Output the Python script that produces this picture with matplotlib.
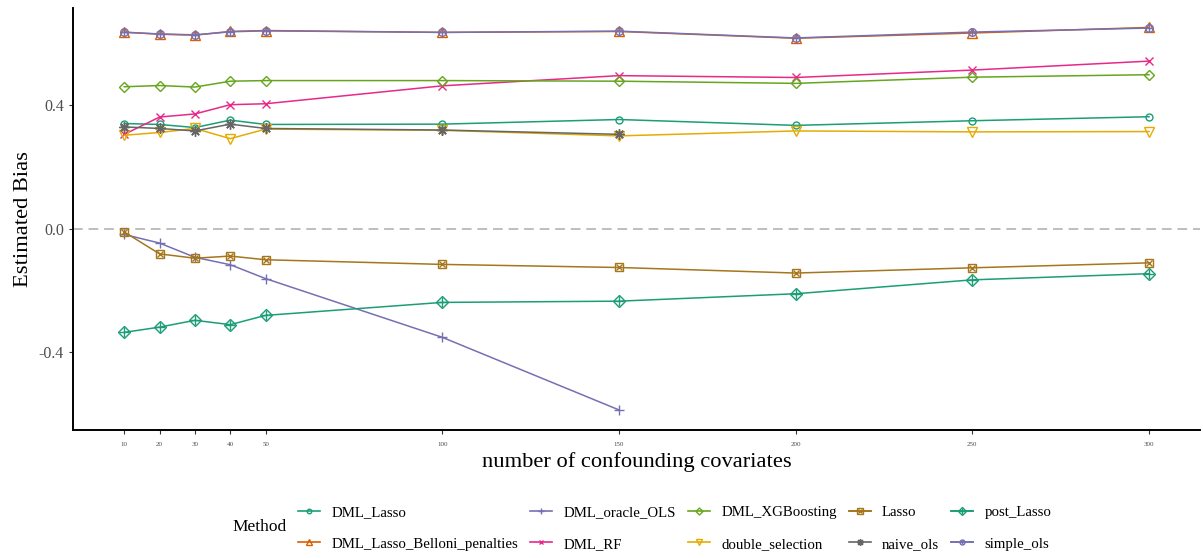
import numpy as np
import matplotlib
matplotlib.use("Agg")
import matplotlib.pyplot as plt
from matplotlib.lines import Line2D

plt.rcParams["font.family"] = ["Liberation Serif", "DejaVu Serif"]

# number of confounding covariates
n_cov = [10, 20, 30, 40, 50, 100, 150, 200, 250, 300]
n_cov_short = [10, 20, 30, 40, 50, 100, 150]

# estimated bias per method
dml_lasso = [0.340, 0.337, 0.327, 0.351, 0.337, 0.338, 0.353, 0.334, 0.349, 0.362]
dml_lasso_belloni = [0.636, 0.629, 0.626, 0.638, 0.641, 0.635, 0.638, 0.616, 0.633, 0.651]
dml_oracle_ols = [-0.019, -0.047, -0.093, -0.117, -0.162, -0.352, -0.587]
dml_rf = [0.305, 0.361, 0.371, 0.401, 0.404, 0.462, 0.495, 0.489, 0.513, 0.542]
dml_xgboosting = [0.459, 0.463, 0.458, 0.477, 0.479, 0.479, 0.477, 0.470, 0.490, 0.498]
double_selection = [0.302, 0.311, 0.324, 0.291, 0.322, 0.318, 0.300, 0.316, 0.313, 0.314]
lasso = [-0.011, -0.082, -0.096, -0.089, -0.101, -0.116, -0.126, -0.144, -0.127, -0.111]
naive_ols = [0.329, 0.324, 0.316, 0.338, 0.324, 0.319, 0.305]
post_lasso = [-0.336, -0.319, -0.297, -0.311, -0.281, -0.239, -0.235, -0.211, -0.166, -0.146]
simple_ols = [0.635, 0.630, 0.627, 0.637, 0.640, 0.635, 0.639, 0.617, 0.636, 0.649]

methods = ["DML_Lasso", "DML_Lasso_Belloni_penalties", "DML_oracle_OLS", "DML_RF",
           "DML_XGBoosting", "double_selection", "Lasso", "naive_ols",
           "post_Lasso", "simple_ols"]
series = {
    "DML_Lasso": (n_cov, dml_lasso),
    "DML_Lasso_Belloni_penalties": (n_cov, dml_lasso_belloni),
    "DML_oracle_OLS": (n_cov_short, dml_oracle_ols),
    "DML_RF": (n_cov, dml_rf),
    "DML_XGBoosting": (n_cov, dml_xgboosting),
    "double_selection": (n_cov, double_selection),
    "Lasso": (n_cov, lasso),
    "naive_ols": (n_cov_short, naive_ols),
    "post_Lasso": (n_cov, post_lasso),
    "simple_ols": (n_cov, simple_ols),
}

# colour and (possibly compound) marker for each method, ggplot shapes 1..10
styles = {
    "DML_Lasso": ("#1B9E77", [("o", 5)]),
    "DML_Lasso_Belloni_penalties": ("#D95F02", [("^", 6.5)]),
    "DML_oracle_OLS": ("#7570B3", [("+", 7.5)]),
    "DML_RF": ("#E7298A", [("x", 5.5)]),
    "DML_XGBoosting": ("#66A61E", [("D", 5.5)]),
    "double_selection": ("#E6AB02", [("v", 6.5)]),
    "Lasso": ("#A6761D", [("s", 6), ("x", 5)]),
    "naive_ols": ("#666666", [((8, 2, 0), 7.5)]),
    "post_Lasso": ("#1B9E77", [("D", 6), ("+", 7.5)]),
    "simple_ols": ("#7570B3", [("o", 5.5), ("+", 5.5)]),
}

fig = plt.figure(figsize=(12.03, 5.58), dpi=100)
ax = fig.add_axes([0.0607, 0.2294, 0.937, 0.7563])

ax.axhline(0, color="#BEBEBE", linestyle=(0, (5, 3)), linewidth=1.4, zorder=1)

handles = []
for i, name in enumerate(methods):
    xs, ys = series[name]
    color, marks = styles[name]
    ax.plot(xs, ys, color=color, linewidth=1.1, zorder=2 + i)
    parts = []
    for m, ms in marks:
        ax.plot(xs, ys, linestyle="none", marker=m, markersize=ms,
                markerfacecolor="none", markeredgecolor=color,
                markeredgewidth=1.0, zorder=2 + i)
        parts.append(Line2D([], [], color=color, linewidth=1.2, marker=m,
                            markersize=ms * 0.65, markerfacecolor="none",
                            markeredgecolor=color, markeredgewidth=1.0))
    handles.append(tuple(parts))

ax.set_xlim(-4.5, 314.5)
ax.set_ylim(-0.652, 0.714)
ax.set_xticks(n_cov)
ax.set_xticklabels([str(v) for v in n_cov], fontsize=5, color="#4D4D4D")
ax.set_yticks([-0.4, 0.0, 0.4])
ax.set_yticklabels(["-0.4", "0.0", "0.4"], fontsize=11.5, color="#4D4D4D")
ax.tick_params(axis="both", length=3, width=0.8, color="#333333")
ax.tick_params(axis="x", pad=6)

for side in ["top", "right"]:
    ax.spines[side].set_visible(False)
for side in ["left", "bottom"]:
    ax.spines[side].set_linewidth(1.4)
    ax.spines[side].set_color("black")

ax.set_xlabel("number of confounding covariates", fontsize=16.2, labelpad=3)
ax.set_ylabel("Estimated Bias", fontsize=16.2, labelpad=4)

fig.text(232 / 1203, 1 - 527 / 558, "Method", fontsize=12.5, va="center", ha="left")
fig.legend(handles, methods, ncol=5, loc="center left",
           bbox_to_anchor=(298 / 1203, 1 - 528 / 558), frameon=False,
           fontsize=10.7, handlelength=1.5, handletextpad=0.75,
           columnspacing=0.8, labelspacing=1.25, borderpad=0, borderaxespad=0)

fig.savefig("out.png", dpi=100)
